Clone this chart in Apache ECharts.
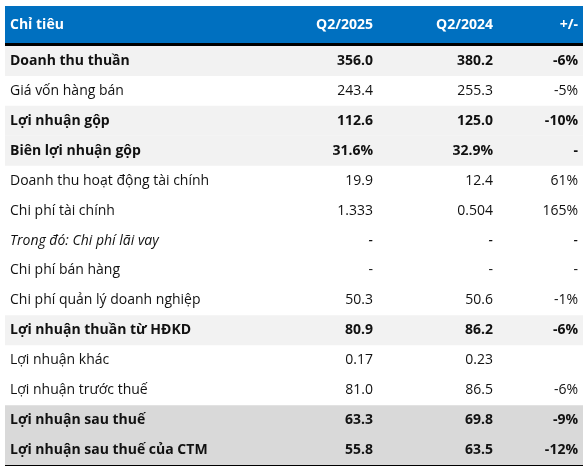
<!DOCTYPE html>
<html>
<head>
<meta charset="utf-8">
<script src="https://cdn.jsdelivr.net/npm/echarts@6/dist/echarts.min.js"></script>
<style>
  html, body { margin: 0; padding: 0; background: #fff; }
  #main { width: 587px; height: 469px; }
</style>
</head>
<body>
<div id="main"></div>
<script>
var headers = ['Chỉ tiêu', 'Q2/2025', 'Q2/2024', '+/-'];
var items = ['Doanh thu thuần', 'Giá vốn hàng bán', 'Lợi nhuận gộp', 'Biên lợi nhuận gộp',
  'Doanh thu hoạt động tài chính', 'Chi phí tài chính', 'Trong đó: Chi phí lãi vay',
  'Chi phí bán hàng', 'Chi phí quản lý doanh nghiệp', 'Lợi nhuận thuần từ HĐKD',
  'Lợi nhuận khác', 'Lợi nhuận trước thuế', 'Lợi nhuận sau thuế', 'Lợi nhuận sau thuế của CTM'];
var q2025 = ['356.0', '243.4', '112.6', '31.6%', '19.9', '1.333', '-', '-', '50.3', '80.9', '0.17', '81.0', '63.3', '55.8'];
var q2024 = ['380.2', '255.3', '125.0', '32.9%', '12.4', '0.504', '-', '-', '50.6', '86.2', '0.23', '86.5', '69.8', '63.5'];
var change = ['-6%', '-5%', '-10%', '-', '61%', '165%', '-', '-', '-1%', '-6%', '', '-6%', '-9%', '-12%'];
// row style: 1 = bold light grey, 2 = bold darker grey, 3 = italic
var rowStyle = [1, 0, 1, 1, 0, 0, 3, 0, 0, 1, 0, 0, 2, 2];

var font = '"Open Sans", "Noto Sans", sans-serif';
var chart = echarts.init(document.getElementById('main'));

chart.setOption({
  animation: false,
  grid: { left: 5, right: 4, top: 46, bottom: 4 },
  xAxis: { type: 'value', min: 0, max: 578, show: false },
  yAxis: { type: 'category', inverse: true, data: items, show: false },
  graphic: [
    { type: 'rect', shape: { x: 5, y: 6, width: 578, height: 38 }, style: { fill: '#0070c0' } },
    { type: 'rect', shape: { x: 5, y: 43, width: 578, height: 3 }, style: { fill: '#000' } },
    { type: 'rect', shape: { x: 5, y: 463, width: 578, height: 3 }, style: { fill: '#000' } },
    { type: 'text', x: 10, y: 25, style: { text: headers[0], fill: '#fff', font: 'bold 14px ' + font, verticalAlign: 'middle' } },
    { type: 'text', x: 373, y: 25, style: { text: headers[1], fill: '#fff', font: 'bold 14px ' + font, align: 'right', verticalAlign: 'middle' } },
    { type: 'text', x: 493, y: 25, style: { text: headers[2], fill: '#fff', font: 'bold 14px ' + font, align: 'right', verticalAlign: 'middle' } },
    { type: 'text', x: 578, y: 25, style: { text: headers[3], fill: '#fff', font: 'bold 14px ' + font, align: 'right', verticalAlign: 'middle' } }
  ],
  series: [{
    type: 'custom',
    data: items.map(function (n, i) { return [i]; }),
    encode: { y: 0 },
    renderItem: function (params, api) {
      var i = api.value(0);
      var c = api.coord([0, i]);
      var h = api.size([0, 1])[1];
      var right = api.coord([578, i])[0];
      var st = rowStyle[i];
      var weight = (st === 1 || st === 2) ? 'bold ' : '';
      var ital = st === 3 ? 'italic ' : '';
      var f = ital + weight + '14px ' + font;
      var col = '#111';
      var kids = [];
      if (st === 1 || st === 2) {
        kids.push({ type: 'rect', shape: { x: c[0], y: c[1] - h / 2, width: right - c[0], height: h },
          style: { fill: st === 2 ? '#d9d9d9' : '#f2f2f2' } });
      }
      kids.push({ type: 'text', x: c[0] + 5, y: c[1], style: { text: items[i], font: f, fill: col, verticalAlign: 'middle' } });
      kids.push({ type: 'text', x: api.coord([368, i])[0], y: c[1], style: { text: q2025[i], font: f, fill: col, align: 'right', verticalAlign: 'middle' } });
      kids.push({ type: 'text', x: api.coord([488, i])[0], y: c[1], style: { text: q2024[i], font: f, fill: col, align: 'right', verticalAlign: 'middle' } });
      kids.push({ type: 'text', x: api.coord([573, i])[0], y: c[1], style: { text: change[i], font: f, fill: col, align: 'right', verticalAlign: 'middle' } });
      return { type: 'group', children: kids };
    }
  }]
});
</script>
</body>
</html>
